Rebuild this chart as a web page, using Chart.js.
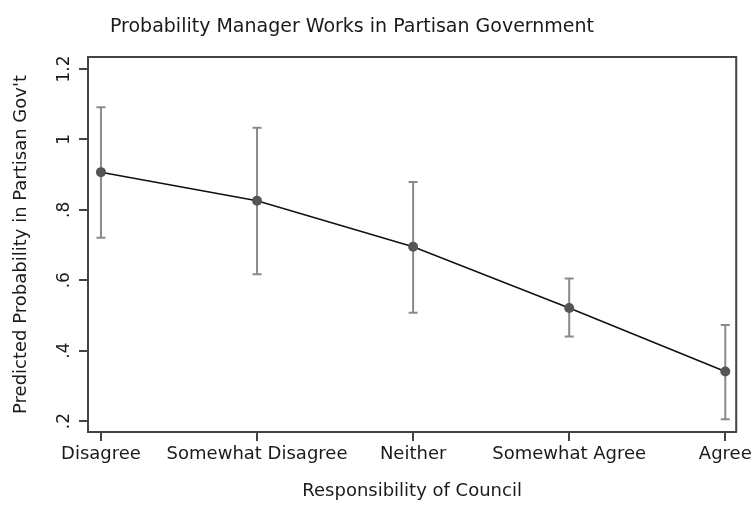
<!DOCTYPE html>
<html>
<head>
<meta charset="utf-8">
<script src="https://cdn.jsdelivr.net/npm/chart.js@4.4.1/dist/chart.umd.min.js"></script>
<style>
  html, body { margin: 0; padding: 0; background: #fff; }
  #wrap { width: 755px; height: 506px; }
</style>
</head>
<body>
<div id="wrap"><canvas id="chart"></canvas></div>
<script>
// categories along the x axis
const categories = ['Disagree', 'Somewhat Disagree', 'Neither', 'Somewhat Agree', 'Agree'];
// predicted probability and its confidence interval
const predicted = [0.907, 0.826, 0.695, 0.521, 0.341];
const lower = [0.721, 0.617, 0.508, 0.440, 0.205];
const upper = [1.091, 1.033, 0.879, 0.605, 0.473];
// y tick values and labels
const yTicks = [0.2, 0.4, 0.6, 0.8, 1.0, 1.2];
const yTickLabels = ['.2', '.4', '.6', '.8', '1', '1.2'];

const FONT = "'DejaVu Sans', sans-serif";

// error bars, frame, rotated y labels
const extras = {
    id: 'extras',
    beforeDatasetsDraw(chart) {
        const ctx = chart.ctx;
        const xs = chart.scales.x, ys = chart.scales.y;
        ctx.save();
        ctx.strokeStyle = '#8a8a8a';
        ctx.lineWidth = 2;
        predicted.forEach((v, i) => {
            const px = xs.getPixelForValue(i);
            const top = ys.getPixelForValue(upper[i]);
            const bot = ys.getPixelForValue(lower[i]);
            ctx.beginPath();
            ctx.moveTo(px, top); ctx.lineTo(px, bot);
            ctx.moveTo(px - 4.5, top); ctx.lineTo(px + 4.5, top);
            ctx.moveTo(px - 4.5, bot); ctx.lineTo(px + 4.5, bot);
            ctx.stroke();
        });
        ctx.restore();
    },
    afterDraw(chart) {
        const ctx = chart.ctx;
        const a = chart.chartArea;
        const ys = chart.scales.y;
        ctx.save();
        // frame top and right
        ctx.strokeStyle = '#444';
        ctx.lineWidth = 2;
        ctx.beginPath();
        ctx.moveTo(a.left, a.top); ctx.lineTo(a.right, a.top); ctx.lineTo(a.right, a.bottom);
        ctx.stroke();
        // rotated y tick labels
        ctx.fillStyle = '#1a1a1a';
        ctx.font = '17px ' + FONT;
        ctx.textAlign = 'center';
        ctx.textBaseline = 'middle';
        yTicks.forEach((v, i) => {
            const py = ys.getPixelForValue(v);
            ctx.save();
            ctx.translate(65, py);
            ctx.rotate(-Math.PI / 2);
            ctx.fillText(yTickLabels[i], 0, 0);
            ctx.restore();
        });
        // y axis title
        ctx.font = '18px ' + FONT;
        ctx.save();
        ctx.translate(21, (a.top + a.bottom) / 2);
        ctx.rotate(-Math.PI / 2);
        ctx.fillText("Predicted Probability in Partisan Gov't", 0, 0);
        ctx.restore();
        // chart title
        ctx.font = '19px ' + FONT;
        ctx.fillText('Probability Manager Works in Partisan Government', 352, 27);
        ctx.restore();
    }
};

new Chart(document.getElementById('chart'), {
    type: 'line',
    data: {
        datasets: [{
            data: predicted.map((v, i) => ({ x: i, y: v })),
            borderColor: '#111',
            borderWidth: 1.5,
            pointRadius: 5,
            pointBackgroundColor: '#555',
            pointBorderColor: '#555',
            pointBorderWidth: 0,
            tension: 0
        }]
    },
    options: {
        responsive: true,
        maintainAspectRatio: false,
        animation: false,
        layout: { padding: { top: 57, right: 16, left: 0, bottom: 0 } },
        plugins: { legend: { display: false }, tooltip: { enabled: false } },
        scales: {
            x: {
                type: 'linear',
                min: -0.083,
                max: 4.07,
                afterBuildTicks: s => { s.ticks = categories.map((c, i) => ({ value: i })); },
                afterFit: s => { s.height = 74; },
                ticks: {
                    callback: v => categories[v],
                    color: '#1a1a1a',
                    font: { family: FONT, size: 18 },
                    padding: 3,
                    maxRotation: 0,
                    autoSkip: false
                },
                grid: { drawOnChartArea: false, tickLength: 9, color: '#444', lineWidth: 2 },
                border: { color: '#444', width: 2 },
                title: {
                    display: true,
                    text: 'Responsibility of Council',
                    color: '#1a1a1a',
                    font: { family: FONT, size: 18 },
                    padding: { top: 18 }
                }
            },
            y: {
                min: 0.169,
                max: 1.234,
                afterBuildTicks: s => { s.ticks = yTicks.map(v => ({ value: v })); },
                afterFit: s => { s.width = 88; },
                ticks: { display: false },
                grid: { drawOnChartArea: false, tickLength: 9, color: '#444', lineWidth: 2 },
                border: { color: '#444', width: 2 }
            }
        }
    },
    plugins: [extras]
});
</script>
</body>
</html>
